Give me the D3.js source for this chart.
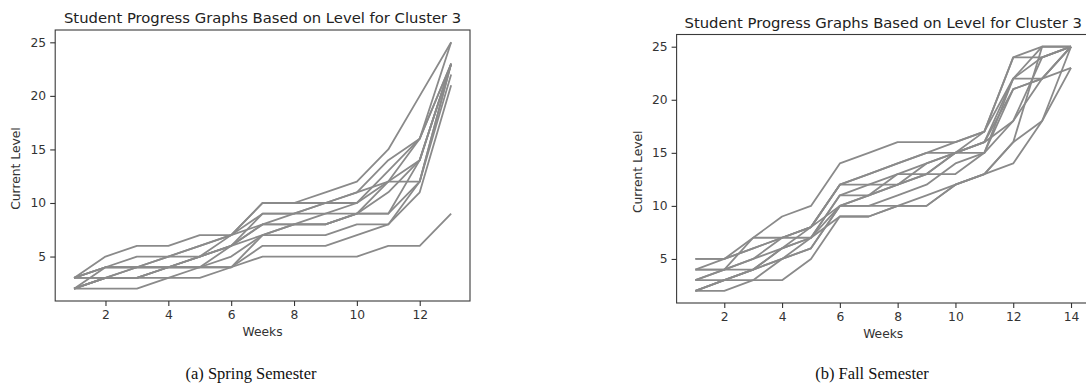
<!DOCTYPE html>
<html>
<head>
<meta charset="utf-8">
<script src="https://cdn.jsdelivr.net/npm/d3@7"></script>
<style>
  body { margin: 0; background: #fff; }
  svg { display: block; }
  .tick text { font-family: 'DejaVu Sans', sans-serif; font-size: 12.3px; fill: #333; }
  .tick line { stroke: #333; stroke-width: 1.1; }
  .domain { display: none; }
</style>
</head>
<body>
<div id="chart"></div>
<script>
// ----------- DATA ------------
const titleText = 'Student Progress Graphs Based on Level for Cluster 3';

const springWeeks = [1, 2, 3, 4, 5, 6, 7, 8, 9, 10, 11, 12, 13];
const fallWeeks = [1, 2, 3, 4, 5, 6, 7, 8, 9, 10, 11, 12, 13, 14];

const springTicks = [2, 4, 6, 8, 10, 12];
const fallTicks = [2, 4, 6, 8, 10, 12, 14];
const levelTicks = [5, 10, 15, 20, 25];

// one row per student, current level for each week
const springLevels = [
  [2, 2, 2, 3, 3, 4, 5, 5, 5, 5, 6, 6, 9],
  [3, 5, 6, 6, 7, 7, 10, 10, 11, 12, 15, 20, 25],
  [3, 4, 4, 5, 6, 7, 9, 9, 10, 11, 14, 16, 25],
  [3, 3, 3, 4, 5, 6, 8, 8, 9, 10, 13, 16, 23],
  [2, 3, 4, 4, 5, 6, 7, 8, 8, 9, 12, 16, 23],
  [3, 4, 5, 5, 6, 7, 10, 10, 10, 11, 12, 12, 23],
  [2, 3, 3, 4, 4, 6, 9, 9, 9, 9, 11, 14, 23],
  [2, 4, 4, 5, 5, 6, 8, 9, 10, 10, 12, 14, 23],
  [3, 3, 4, 4, 4, 4, 7, 7, 7, 8, 8, 11, 21],
  [2, 3, 3, 4, 4, 5, 7, 8, 8, 9, 9, 14, 23],
  [2, 3, 3, 3, 4, 4, 6, 6, 6, 7, 8, 12, 22],
  [3, 4, 4, 4, 5, 7, 8, 8, 8, 9, 9, 12, 23],
];

const fallLevels = [
  [5, 5, 7, 9, 10, 14, 15, 16, 16, 16, 17, 24, 24, 25],
  [4, 5, 6, 7, 8, 12, 13, 14, 15, 16, 17, 22, 25, 25],
  [4, 4, 4, 6, 7, 11, 11, 12, 14, 15, 17, 24, 25, 25],
  [2, 2, 3, 5, 7, 11, 12, 13, 13, 15, 15, 21, 22, 25],
  [3, 3, 3, 3, 5, 9, 9, 10, 10, 12, 13, 14, 18, 23],
  [2, 3, 4, 5, 6, 10, 10, 11, 12, 14, 15, 18, 22, 23],
  [3, 4, 7, 7, 8, 12, 12, 12, 13, 13, 15, 22, 22, 25],
  [2, 3, 4, 6, 7, 10, 10, 10, 10, 12, 13, 16, 18, 25],
  [4, 4, 5, 6, 8, 12, 13, 14, 15, 15, 16, 21, 22, 25],
  [3, 4, 5, 7, 7, 9, 9, 10, 11, 12, 13, 16, 25, 25],
  [2, 3, 4, 5, 6, 10, 11, 12, 13, 15, 16, 18, 24, 25],
  [5, 5, 6, 7, 8, 10, 11, 13, 14, 15, 16, 22, 24, 25],
];

// ----------- SVG ------------
const width = 1086,
  height = 389;

const svg = d3
  .select('#chart')
  .append('svg')
  .attr('width', width)
  .attr('height', height);

// matplotlib style 5% margin around the data
function padded(extent) {
  const pad = (extent[1] - extent[0]) * 0.05;
  return [extent[0] - pad, extent[1] + pad];
}

//----------- PANEL -------------
function drawPanel(p) {
  const allLevels = [].concat(...p.levels);
  const x = d3.scaleLinear().domain(padded(d3.extent(p.weeks))).range([p.left, p.right]);
  const y = d3.scaleLinear().domain(padded(d3.extent(allLevels))).range([p.bottom, p.top]);

  const g = svg.append('g');

  // lines
  const line = d3
    .line()
    .x((d, i) => x(p.weeks[i]))
    .y((d) => y(d));

  g.selectAll('.student')
    .data(p.levels)
    .enter()
    .append('path')
    .attr('class', 'student')
    .attr('d', (d) => line(d))
    .attr('fill', 'none')
    .attr('stroke', '#8a8a8a')
    .attr('stroke-width', 1.8)
    .attr('stroke-linejoin', 'round');

  // frame
  g.append('rect')
    .attr('x', p.left)
    .attr('y', p.top)
    .attr('width', p.right - p.left)
    .attr('height', p.bottom - p.top)
    .attr('fill', 'none')
    .attr('stroke', '#3a3a3a')
    .attr('stroke-width', 1.1);

  g.append('g')
    .attr('transform', `translate(0, ${p.bottom})`)
    .call(d3.axisBottom(x).tickValues(p.ticks).tickSize(5).tickPadding(4));

  g.append('g')
    .attr('transform', `translate(${p.left}, 0)`)
    .call(d3.axisLeft(y).tickValues(levelTicks).tickSize(5).tickPadding(4));

  // title
  g.append('text')
    .attr('x', (p.left + p.titleRight) / 2)
    .attr('y', p.top - 7)
    .attr('text-anchor', 'middle')
    .style('font-family', 'DejaVu Sans, sans-serif')
    .style('font-size', '14.8px')
    .style('fill', '#222')
    .text(titleText);

  g.append('text')
    .attr('x', (p.left + p.titleRight) / 2)
    .attr('y', p.bottom + 35)
    .attr('text-anchor', 'middle')
    .style('font-family', 'DejaVu Sans, sans-serif')
    .style('font-size', '12.3px')
    .style('fill', '#333')
    .text('Weeks');

  g.append('text')
    .attr('transform', `translate(${p.ylabelX}, ${(p.top + p.bottom) / 2 + 3}) rotate(-90)`)
    .attr('text-anchor', 'middle')
    .style('font-family', 'DejaVu Sans, sans-serif')
    .style('font-size', '12.3px')
    .style('fill', '#333')
    .text('Current Level');

  // caption under the figure
  g.append('text')
    .attr('x', p.captionX)
    .attr('y', 379)
    .attr('text-anchor', 'middle')
    .style('font-family', 'Liberation Serif, serif')
    .style('font-size', '16.5px')
    .style('fill', '#111')
    .text(p.caption);
}

drawPanel({
  weeks: springWeeks,
  levels: springLevels,
  ticks: springTicks,
  left: 55.2,
  right: 470,
  titleRight: 470,
  top: 30,
  bottom: 301,
  ylabelX: 20,
  captionX: 251,
  caption: '(a) Spring Semester',
});

drawPanel({
  weeks: fallWeeks,
  levels: fallLevels,
  ticks: fallTicks,
  left: 676.6,
  right: 1089.8,
  titleRight: 1089.8,
  top: 34.5,
  bottom: 303,
  ylabelX: 642,
  captionX: 872,
  caption: '(b) Fall Semester',
});
</script>
</body>
</html>
